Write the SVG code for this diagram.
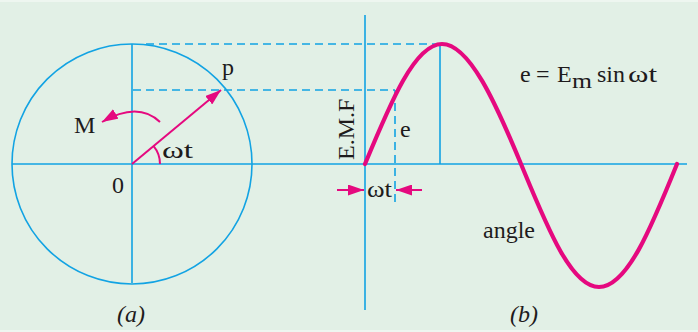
<svg xmlns="http://www.w3.org/2000/svg" width="698" height="332" viewBox="0 0 698 332">
<style>
.bl{stroke:#12a3e3;stroke-width:1.6;fill:none}
.ds{stroke:#12a3e3;stroke-width:1.6;fill:none;stroke-dasharray:8 5}
.mg{stroke:#e5097f;stroke-width:2;fill:none}
text{font-family:'Liberation Serif','DejaVu Serif',serif;font-size:24px;fill:#1e1b1c}
.it{font-style:italic}
</style>
<defs>
<marker id="ah" viewBox="0 0 16 11" refX="16" refY="5.5" markerWidth="16" markerHeight="11" markerUnits="userSpaceOnUse" orient="auto">
<path d="M0,0 L16,5.5 L0,11 Z" fill="#e5097f"/>
</marker>
</defs>
<rect width="698" height="332" fill="#e2f0e6"/>
<rect width="698" height="2" fill="#eef6f0"/>
<rect y="330" width="698" height="2" fill="#eef6f0"/>

<g id="connectors">
<line class="bl" x1="12" y1="164" x2="687" y2="164"/>
<line class="bl" x1="132" y1="44" x2="132" y2="283"/>
<line class="bl" x1="365" y1="15" x2="365" y2="310"/>
<line class="bl" x1="440" y1="44" x2="440" y2="164"/>
<line class="ds" x1="146" y1="44" x2="440" y2="44"/>
<line class="ds" x1="133" y1="90" x2="395" y2="90"/>
<line class="ds" x1="395" y1="90" x2="395" y2="205"/>
<line class="mg" x1="132" y1="164" x2="221" y2="90" marker-end="url(#ah)"/>
<path class="mg" d="M160,122 Q138,101 102,122" marker-end="url(#ah)"/>
<path class="mg" d="M160,164 A28,28 0 0 0 153.6,146.2"/>
<line class="mg" x1="337" y1="190" x2="364" y2="190" marker-end="url(#ah)"/>
<line class="mg" x1="422" y1="190" x2="396" y2="190" marker-end="url(#ah)"/>
</g>

<g id="circle">
<circle class="bl" cx="132" cy="164" r="120"/>
</g>

<g id="sine">
<path d="M365,164 C390.5,102.5 414.8,44 442,44 S495.5,102.5 521,164 S570.8,287 599,287 S651.5,227 677,164" fill="none" stroke="#e5097f" stroke-width="4.2" stroke-linejoin="round" stroke-linecap="round"/>
</g>

<g id="labels">
<text x="222" y="75">p</text>
<text x="74" y="133" font-size="25">M</text>
<text x="112" y="193" font-size="23">0</text>
<text x="162" y="158" textLength="31" lengthAdjust="spacingAndGlyphs">ωt</text>
<text class="it" x="117" y="322" font-size="23">(a)</text>
<text class="it" x="510" y="322" font-size="23">(b)</text>
<text x="367" y="197" textLength="25" lengthAdjust="spacingAndGlyphs">ωt</text>
<text x="400" y="137">e</text>
<text x="483" y="238" font-size="24.5">angle</text>
<text font-size="16" transform="translate(354,160) rotate(-90)">E.M.F</text>
<text y="82"><tspan x="520">e</tspan><tspan x="536">=</tspan><tspan x="557">E</tspan><tspan x="572" y="88" font-size="20" textLength="20" lengthAdjust="spacingAndGlyphs">m</tspan><tspan x="597" y="82">sin</tspan><tspan x="628" textLength="29" lengthAdjust="spacingAndGlyphs">ωt</tspan></text>
</g>
</svg>
